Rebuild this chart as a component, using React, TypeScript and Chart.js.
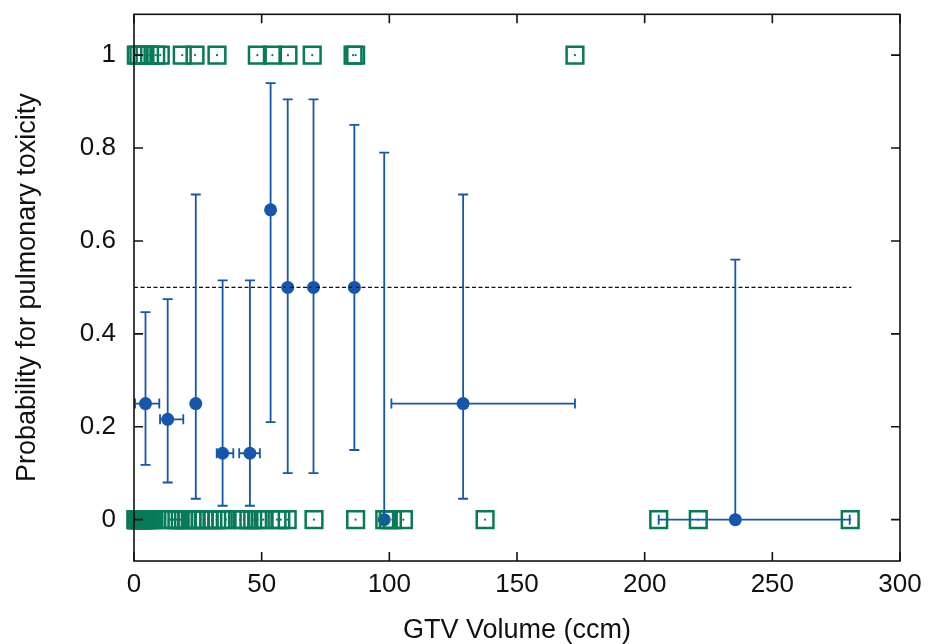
import React, { useEffect, useRef } from "react";
import { Chart, registerables } from "chart.js";

Chart.register(...registerables);

// ---------- data ----------
const xTicks = [0, 50, 100, 150, 200, 250, 300];
const yTicks = [0, 0.2, 0.4, 0.6, 0.8, 1];
const yTickLabels = ["0", "0.2", "0.4", "0.6", "0.8", "1"];

// raw observations: volumes of patients with toxicity (y = 1)
const toxicVolumes = [
  0.9, 1.9, 3.2, 4.3, 6.1, 8.5, 10.3, 18.9, 23.9, 32.5, 48.3, 54.2, 60.3, 69.8,
  85.8, 86.8, 172.7,
];
// raw observations: volumes of patients without toxicity (y = 0)
const nonToxicVolumes = [
  0.7, 1.0, 1.4, 1.9, 2.3, 2.8, 3.3, 3.9, 4.6, 5.3, 6.0, 6.8, 7.8, 14.2, 15.5,
  16.8, 18.1, 19.4, 20.7, 22.7, 24.0, 26.0, 27.5, 29.2, 30.9, 32.4, 34.0, 36.0,
  41.5, 43.0, 45.0, 46.5, 48.4, 50.6, 56.0, 57.5, 60.0, 70.5, 86.8, 98.2, 99.6,
  101.2, 105.5, 137.5, 205.5, 221.0, 280.5,
];

// binned estimates
const binX = [4.5, 13.2, 24.2, 34.7, 45.4, 53.5, 60.2, 70.3, 86.3, 98.0, 128.9, 235.5];
const binY = [0.25, 0.216, 0.25, 0.143, 0.143, 0.667, 0.5, 0.5, 0.5, 0, 0.25, 0];
const binYLow = [0.118, 0.08, 0.045, 0.03, 0.03, 0.21, 0.1, 0.1, 0.15, 0, 0.045, 0];
const binYHigh = [0.447, 0.475, 0.7, 0.515, 0.515, 0.94, 0.905, 0.905, 0.85, 0.79, 0.7, 0.56];
const binXLow = [0.4, 10.2, 23.5, 32.4, 41.2, 53.0, 59.8, 69.8, 85.8, 97.5, 100.8, 205.5];
const binXHigh = [9.9, 19.3, 25.0, 38.9, 49.3, 54.0, 60.6, 70.8, 86.8, 98.6, 172.7, 280.3];

// threshold line
const thresholdX = [0, 281];
const thresholdY = [0.5, 0.5];

const GREEN = "#087a58";
const BLUE = "#1656ab";
const FONT = "'Liberation Sans', Arial, Helvetica, sans-serif";

const errorBarPlugin = {
  id: "errorBars",
  afterDatasetsDraw(chart: any) {
    const { ctx } = chart;
    const x = chart.scales.x;
    const y = chart.scales.y;
    ctx.save();
    ctx.strokeStyle = BLUE;
    ctx.lineWidth = 1.8;
    const cap = 5;
    for (let i = 0; i < binX.length; i++) {
      const px = x.getPixelForValue(binX[i]);
      const py = y.getPixelForValue(binY[i]);
      const yl = y.getPixelForValue(binYLow[i]);
      const yh = y.getPixelForValue(binYHigh[i]);
      const xl = x.getPixelForValue(binXLow[i]);
      const xh = x.getPixelForValue(binXHigh[i]);
      ctx.beginPath();
      ctx.moveTo(px, yl);
      ctx.lineTo(px, yh);
      ctx.moveTo(px - cap, yl);
      ctx.lineTo(px + cap, yl);
      ctx.moveTo(px - cap, yh);
      ctx.lineTo(px + cap, yh);
      ctx.moveTo(xl, py);
      ctx.lineTo(xh, py);
      ctx.moveTo(xl, py - cap);
      ctx.lineTo(xl, py + cap);
      ctx.moveTo(xh, py - cap);
      ctx.lineTo(xh, py + cap);
      ctx.stroke();
    }
    ctx.restore();
  },
};

const framePlugin = {
  id: "frame",
  afterDraw(chart: any) {
    const { ctx, chartArea } = chart;
    const { left, right, top, bottom } = chartArea;
    const x = chart.scales.x;
    const y = chart.scales.y;
    ctx.save();
    ctx.strokeStyle = "#111";
    ctx.lineWidth = 1.6;
    ctx.strokeRect(left, top, right - left, bottom - top);
    ctx.beginPath();
    const tl = 9;
    xTicks.forEach((v) => {
      const p = x.getPixelForValue(v);
      ctx.moveTo(p, bottom);
      ctx.lineTo(p, bottom - tl);
      ctx.moveTo(p, top);
      ctx.lineTo(p, top + tl);
    });
    yTicks.forEach((v) => {
      const p = y.getPixelForValue(v);
      ctx.moveTo(left, p);
      ctx.lineTo(left + tl, p);
      ctx.moveTo(right, p);
      ctx.lineTo(right - tl, p);
    });
    ctx.stroke();
    ctx.restore();
  },
};

export default function App() {
  const ref = useRef<HTMLCanvasElement | null>(null);

  useEffect(() => {
    document.body.style.margin = "0";
    const canvas = ref.current;
    if (!canvas) return;

    const toxicPts = toxicVolumes.map((v) => ({ x: v, y: 1 }));
    const nonToxicPts = nonToxicVolumes.map((v) => ({ x: v, y: 0 }));
    const rawPts = [...nonToxicPts, ...toxicPts];
    const binPts = binX.map((v, i) => ({ x: v, y: binY[i] }));
    const linePts = thresholdX.map((v, i) => ({ x: v, y: thresholdY[i] }));

    const chart = new Chart(canvas, {
      type: "scatter",
      data: {
        datasets: [
          {
            label: "observed",
            data: rawPts,
            pointStyle: "rect",
            pointRadius: 11.8,
            borderColor: GREEN,
            borderWidth: 2.5,
            backgroundColor: "rgba(0,0,0,0)",
            clip: false,
          } as any,
          {
            label: "observed-dot",
            data: rawPts,
            pointStyle: "circle",
            pointRadius: 1.1,
            borderWidth: 0,
            backgroundColor: GREEN,
            clip: false,
          } as any,
          {
            label: "threshold",
            data: linePts,
            showLine: true,
            borderColor: "#111",
            borderWidth: 1.4,
            borderDash: [4, 2.5],
            pointRadius: 0,
            fill: false,
          } as any,
          {
            label: "binned",
            data: binPts,
            pointStyle: "circle",
            pointRadius: 6.5,
            borderWidth: 0,
            backgroundColor: BLUE,
            clip: false,
          } as any,
        ],
      },
      options: {
        animation: false,
        responsive: false,
        devicePixelRatio: 1,
        layout: { padding: { top: 13, right: 28, bottom: 0, left: 0 } },
        plugins: {
          legend: { display: false },
          tooltip: { enabled: false },
        },
        scales: {
          x: {
            type: "linear",
            min: 0,
            max: 300,
            grid: { display: false, drawTicks: false },
            border: { display: false },
            afterBuildTicks: (s: any) => {
              s.ticks = xTicks.map((v) => ({ value: v }));
            },
            afterFit: (s: any) => {
              s.height = 83;
              s.paddingLeft = 0;
              s.paddingRight = 0;
            },
            ticks: {
              padding: 8,
              color: "#111",
              font: { family: FONT, size: 26 },
              maxRotation: 0,
              autoSkip: false,
              callback: (v: any) => String(v),
            },
            title: {
              display: true,
              text: "GTV Volume (ccm)",
              color: "#111",
              font: { family: FONT, size: 27, lineHeight: 1 },
              padding: { top: 0, bottom: 0 },
            },
          },
          y: {
            type: "linear",
            min: -0.089,
            max: 1.088,
            grid: { display: false, drawTicks: false },
            border: { display: false },
            afterBuildTicks: (s: any) => {
              s.ticks = yTicks.map((v) => ({ value: v }));
            },
            afterFit: (s: any) => {
              s.width = 134;
              s.paddingTop = 0;
              s.paddingBottom = 0;
            },
            ticks: {
              padding: 18,
              color: "#111",
              font: { family: FONT, size: 26 },
              autoSkip: false,
              callback: (_v: any, i: number) => yTickLabels[i],
            },
            title: {
              display: true,
              text: "Probability for pulmonary toxicity",
              color: "#111",
              font: { family: FONT, size: 27, lineHeight: 1 },
              padding: { top: 14, bottom: 0 },
            },
          },
        },
      } as any,
      plugins: [errorBarPlugin, framePlugin],
    });

    return () => chart.destroy();
  }, []);

  return (
    <div style={{ width: 928, height: 644 }}>
      <canvas ref={ref} width={928} height={644} style={{ display: "block" }} />
    </div>
  );
}
